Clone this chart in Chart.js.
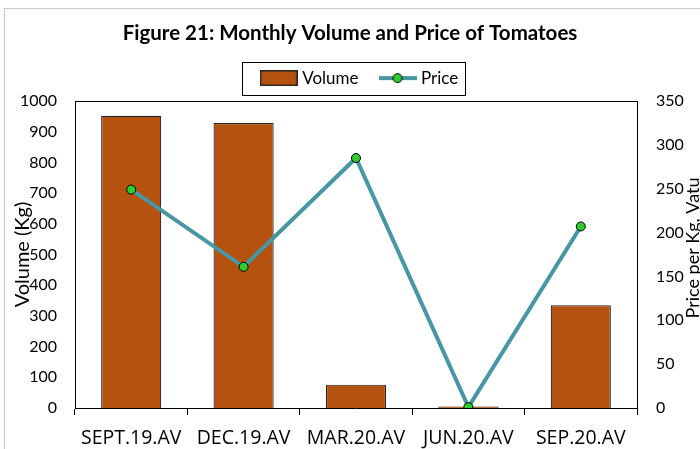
<!DOCTYPE html>
<html>
<head>
<meta charset="utf-8">
<script src="https://cdn.jsdelivr.net/npm/chart.js@4"></script>
<style>
html,body{margin:0;padding:0;background:#fff;}
#wrap{width:700px;height:449px;position:relative;}
</style>
</head>
<body>
<div id="wrap"><canvas id="c" width="700" height="449"></canvas></div>
<script>
const titleText = 'Figure 21: Monthly Volume and Price of Tomatoes';
const categories = ['SEPT.19.AV', 'DEC.19.AV', 'MAR.20.AV', 'JUN.20.AV', 'SEP.20.AV'];
const volumeKg = [952, 928, 76, 5, 335];
const priceVatu = [249, 161, 285, 1, 207];
const volumeTicks = [0, 100, 200, 300, 400, 500, 600, 700, 800, 900, 1000];
const priceTicks = [0, 50, 100, 150, 200, 250, 300, 350];

const BAR = '#B5520F';
const BAR_EDGE = '#262626';
const LINE = '#4696A3';
const DOT = '#2ECC2E';
const FONT = 'Lato';
const XFONT = 'Open Sans';
const LEGEND_SHIFT = 11;

Chart.defaults.font.family = FONT;
Chart.defaults.color = '#000';

function volIcon() {
  const c = document.createElement('canvas');
  c.width = 38; c.height = 16;
  const g = c.getContext('2d');
  g.fillStyle = BAR; g.fillRect(0, 0, 38, 16);
  g.strokeStyle = BAR_EDGE; g.lineWidth = 1.5; g.strokeRect(0.75, 0.75, 36.5, 14.5);
  return c;
}
function priceIcon() {
  const c = document.createElement('canvas');
  c.width = 38; c.height = 12;
  const g = c.getContext('2d');
  g.strokeStyle = LINE; g.lineWidth = 4;
  g.beginPath(); g.moveTo(0, 6); g.lineTo(38, 6); g.stroke();
  g.fillStyle = DOT; g.strokeStyle = '#000'; g.lineWidth = 1;
  g.beginPath(); g.arc(19, 6, 4.5, 0, Math.PI * 2); g.fill(); g.stroke();
  return c;
}
const icons = [volIcon(), priceIcon()];

const decor = {
  id: 'decor',
  afterInit(chart) {
    const lg = chart.legend;
    if (lg) {
      const f = lg.fit.bind(lg);
      lg.fit = function () { f(); this.height = 55.4; };
      const d = lg.draw.bind(lg);
      lg.draw = function () {
        const ctx = chart.ctx;
        ctx.save();
        ctx.translate(LEGEND_SHIFT, 0);
        d();
        ctx.restore();
      };
    }
  },
  beforeDraw(chart) {
    const ctx = chart.ctx;
    ctx.save();
    ctx.fillStyle = '#fff';
    ctx.fillRect(0, 0, chart.width, chart.height);
    ctx.strokeStyle = '#c8c8c8';
    ctx.lineWidth = 1;
    ctx.strokeRect(4.5, 8.5, 1000, 1000);
    ctx.restore();
  },
  afterDraw(chart) {
    const ctx = chart.ctx;
    const a = chart.chartArea;
    ctx.save();
    ctx.strokeStyle = '#000';
    ctx.lineWidth = 1;
    ctx.beginPath();
    ctx.moveTo(a.left, Math.round(a.top) + 0.5);
    ctx.lineTo(a.right, Math.round(a.top) + 0.5);
    ctx.stroke();
    // legend frame
    const hb = chart.legend.legendHitBoxes;
    if (hb && hb.length) {
      const l = hb[0].left - 22 + LEGEND_SHIFT;
      const r = hb[hb.length - 1].left + hb[hb.length - 1].width + 6 + LEGEND_SHIFT;
      const t = hb[0].top - 7.5;
      const b = hb[0].top + hb[0].height + 8.5;
      ctx.strokeStyle = '#000';
      ctx.strokeRect(Math.round(l) + 0.5, Math.round(t) + 0.5, Math.round(r - l), Math.round(b - t));
    }
    // right axis title (reads bottom to top)
    ctx.fillStyle = '#000';
    ctx.font = '18px ' + FONT;
    ctx.textAlign = 'center';
    ctx.textBaseline = 'middle';
    ctx.translate(693, 248);
    ctx.rotate(-Math.PI / 2);
    ctx.fillText('Price per Kg, Vatu', 0, 0);
    ctx.restore();
  }
};

new Chart(document.getElementById('c'), {
  data: {
    labels: categories,
    datasets: [
      {
        type: 'bar',
        label: 'Volume',
        data: volumeKg,
        yAxisID: 'y',
        backgroundColor: BAR,
        borderColor: BAR_EDGE,
        borderWidth: 1.2,
        barPercentage: 0.535,
        categoryPercentage: 1,
        order: 2
      },
      {
        type: 'line',
        label: 'Price',
        data: priceVatu,
        yAxisID: 'y1',
        borderColor: LINE,
        borderWidth: 4,
        pointRadius: 4.5,
        pointBackgroundColor: DOT,
        pointBorderColor: '#000',
        pointBorderWidth: 1,
        tension: 0,
        order: 1
      }
    ]
  },
  options: {
    responsive: false,
    animation: false,
    devicePixelRatio: 1,
    layout: { padding: { top: 8, left: 0, right: 0, bottom: 0 } },
    plugins: {
      title: {
        display: true,
        text: titleText,
        color: '#000',
        font: { family: FONT, size: 20.5, weight: 'bold' },
        padding: { top: 13, bottom: 0 }
      },
      legend: {
        display: true,
        position: 'top',
        labels: {
          usePointStyle: true,
          pointStyleWidth: 30,
          boxHeight: 17,
          padding: 24,
          color: '#000',
          font: { family: FONT, size: 17 },
          generateLabels(chart) {
            return chart.data.datasets.map((ds, i) => ({
              text: ds.label,
              datasetIndex: i,
              pointStyle: icons[i],
              fillStyle: 'transparent',
              strokeStyle: 'transparent',
              lineWidth: 0,
              fontColor: '#000',
              hidden: false
            }));
          }
        }
      },
      tooltip: { enabled: false }
    },
    scales: {
      x: {
        type: 'category',
        offset: true,
        afterFit(s) { s.height = 41; },
        grid: { display: true, offset: true, drawOnChartArea: false, drawTicks: true, tickLength: 7, color: '#000' },
        border: { display: true, color: '#000', width: 1 },
        ticks: { color: '#000', font: { family: XFONT, size: 19.5 }, padding: 12, maxRotation: 0 }
      },
      y: {
        type: 'linear',
        position: 'left',
        min: 0,
        max: 1000,
        afterFit(s) { s.width = 75; },
        afterBuildTicks(s) { s.ticks = volumeTicks.map(v => ({ value: v })); },
        grid: { display: false, drawTicks: false },
        border: { display: true, color: '#000', width: 1 },
        ticks: { color: '#000', font: { family: FONT, size: 16 }, padding: 18, callback: v => String(v) },
        title: { display: true, text: 'Volume (Kg)', color: '#000', font: { family: FONT, size: 20 }, padding: { top: 11, bottom: 0 } }
      },
      y1: {
        type: 'linear',
        position: 'right',
        min: 0,
        max: 350,
        afterFit(s) { s.width = 63; },
        afterBuildTicks(s) { s.ticks = priceTicks.map(v => ({ value: v })); },
        grid: { display: false, drawTicks: false },
        border: { display: true, color: '#000', width: 1 },
        ticks: { color: '#000', font: { family: FONT, size: 16 }, padding: 19, callback: v => String(v) }
      }
    }
  },
  plugins: [decor]
});
</script>
</body>
</html>
